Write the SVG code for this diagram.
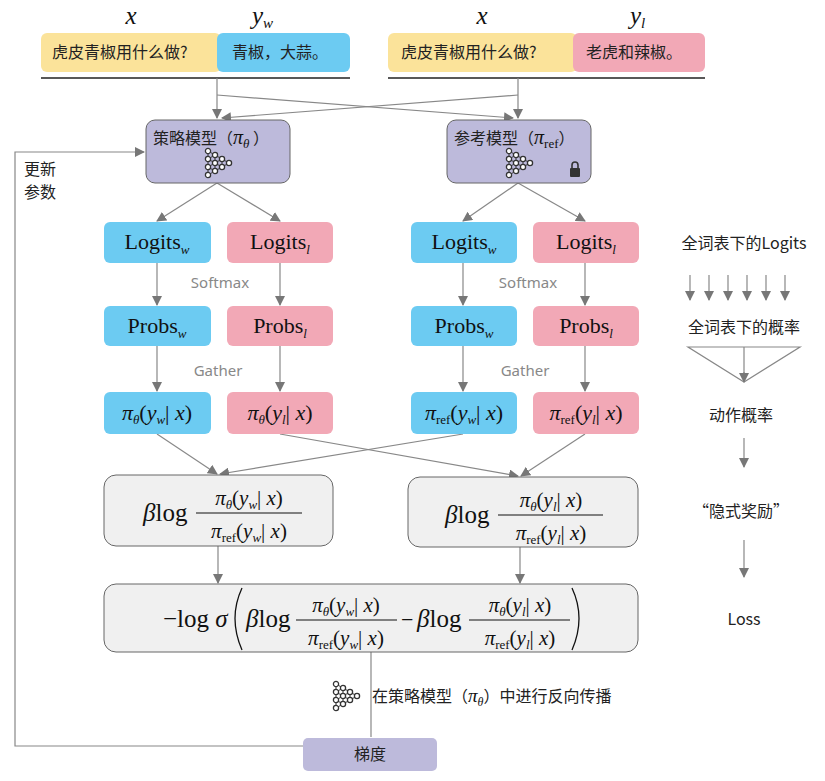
<svg xmlns="http://www.w3.org/2000/svg" width="825" height="781" viewBox="0 0 825 781">
<style>
.cn{font-family:"Noto Sans CJK SC","Noto Sans",sans-serif;font-size:16px;fill:#222}
.m{font-family:"Liberation Serif","Times New Roman","DejaVu Serif",serif;font-style:italic;fill:#111}
.r{font-family:"Liberation Serif","Times New Roman","DejaVu Serif",serif;font-style:normal;fill:#111}
.g{font-family:"Noto Sans","Liberation Sans",sans-serif;font-size:15px;fill:#888}
.ln{stroke:#888;stroke-width:1.2;fill:none}
.bl{fill:#6ccbf2}.pk{fill:#f2a8b6}.yl{fill:#fbe39a}
.gb{fill:#f0f0f0;stroke:#666;stroke-width:1}
.pu{fill:#bdbadb;stroke:#666;stroke-width:1}
</style>
<defs>
<marker id="a" viewBox="0 0 10 10" refX="9" refY="5" markerWidth="10" markerHeight="10" markerUnits="userSpaceOnUse" orient="auto"><path d="M0,0L10,5L0,10z" fill="#777"/></marker>
<g id="nn">
<path d="M0,0L7,4L14,8L21,12M0,8L7,4M0,8L7,12L14,8M0,16L7,12L14,16L21,12M0,24L7,20L14,16M0,16L7,20M0,0V24M7,4V20M14,8V16" stroke="#333" stroke-width="1" fill="none"/>
<g stroke="#333" stroke-width="1.3" fill="#fff">
<circle cx="0" cy="0" r="2.6"/><circle cx="0" cy="8" r="2.6"/><circle cx="0" cy="16" r="2.6"/><circle cx="0" cy="24" r="2.6"/>
<circle cx="7" cy="4" r="2.6"/><circle cx="7" cy="12" r="2.6"/><circle cx="7" cy="20" r="2.6"/>
<circle cx="14" cy="8" r="2.6"/><circle cx="14" cy="16" r="2.6"/><circle cx="21" cy="12" r="2.6"/>
</g></g>
</defs>
<rect width="825" height="781" fill="#fff"/>
<g id="inputs">
<text x="131" y="24" class="m" font-size="25" text-anchor="middle">x</text>
<text x="252" y="24" class="m" font-size="25">y<tspan font-size="15" dy="4">w</tspan></text>
<text x="482" y="24" class="m" font-size="25" text-anchor="middle">x</text>
<text x="630" y="24" class="m" font-size="25">y<tspan font-size="15" dy="4">l</tspan></text>
<rect x="41" y="33" width="180" height="39" rx="6" class="yl"/>
<rect x="217" y="33" width="133" height="39" rx="6" class="bl"/>
<rect x="388" y="33" width="189" height="39" rx="6" class="yl"/>
<rect x="573" y="33" width="132" height="39" rx="6" class="pk"/>
<text x="52" y="58" class="cn">虎皮青椒用什么做?</text>
<text x="232" y="58" class="cn">青椒，大蒜。</text>
<text x="401" y="58" class="cn">虎皮青椒用什么做?</text>
<text x="586" y="58" class="cn">老虎和辣椒。</text>
<path d="M41,78H350M388,78H705" stroke="#222" stroke-width="1.5"/>
</g>
<g id="connectors" class="ln">
<path marker-end="url(#a)" d="M217,78V118"/>
<path marker-end="url(#a)" d="M518,78V118"/>
<path marker-end="url(#a)" d="M217,95L513,118"/>
<path marker-end="url(#a)" d="M518,95L222,118"/>
<path marker-end="url(#a)" d="M303,746H15V152H144"/>
<path marker-end="url(#a)" d="M217,183L157,221"/>
<path marker-end="url(#a)" d="M217,183L280,221"/>
<path marker-end="url(#a)" d="M518,183L463,221"/>
<path marker-end="url(#a)" d="M518,183L585,221"/>
<path marker-end="url(#a)" d="M157,263V305"/>
<path marker-end="url(#a)" d="M280,263V305"/>
<path marker-end="url(#a)" d="M463,263V305"/>
<path marker-end="url(#a)" d="M585,263V305"/>
<path marker-end="url(#a)" d="M157,346V391"/>
<path marker-end="url(#a)" d="M280,346V391"/>
<path marker-end="url(#a)" d="M463,346V391"/>
<path marker-end="url(#a)" d="M585,346V391"/>
<path marker-end="url(#a)" d="M157,434L217,474"/>
<path marker-end="url(#a)" d="M463,434L220,474"/>
<path marker-end="url(#a)" d="M280,434L518,476"/>
<path marker-end="url(#a)" d="M585,434L521,476"/>
<path marker-end="url(#a)" d="M218,546V583"/>
<path marker-end="url(#a)" d="M520,547V583"/>
<path d="M371,652V737"/>
<path marker-end="url(#a)" d="M690,275V300"/>
<path marker-end="url(#a)" d="M709,275V300"/>
<path marker-end="url(#a)" d="M728,275V300"/>
<path marker-end="url(#a)" d="M747,275V300"/>
<path marker-end="url(#a)" d="M766,275V300"/>
<path marker-end="url(#a)" d="M785,275V300"/>
<path marker-end="url(#a)" d="M744,438V467"/>
<path marker-end="url(#a)" d="M744,540V577"/>
<path d="M688,347H800L744,382ZM744,347V381"/>
<path marker-end="url(#a)" d="M744,372V382"/>
</g>
<g id="policy">
<rect x="146" y="120" width="144" height="63" rx="9" class="pu"/>
<text x="153" y="144" class="cn">策略模型（<tspan class="m" font-size="20">π</tspan><tspan class="m" font-size="13" dy="4">θ</tspan><tspan dy="-4"> ）</tspan></text>
<use href="#nn" x="208" y="151"/>
</g>
<g id="ref">
<rect x="447" y="120" width="144" height="63" rx="9" class="pu"/>
<text x="454" y="144" class="cn">参考模型（<tspan class="m" font-size="20">π</tspan><tspan class="r" font-size="13" dy="4">ref</tspan><tspan dy="-4">）</tspan></text>
<use href="#nn" x="509" y="151"/>
<rect x="570" y="168" width="10" height="9" rx="1" fill="#333"/><path d="M572,168V165a3,3 0 0 1 6,0V168" stroke="#333" stroke-width="1.6" fill="none"/>
</g>
<g id="logits">
<rect x="104" y="222" width="107" height="41" rx="6" class="bl"/>
<rect x="227" y="222" width="106" height="41" rx="6" class="pk"/>
<rect x="411" y="222" width="106" height="41" rx="6" class="bl"/>
<rect x="533" y="222" width="106" height="41" rx="6" class="pk"/>
<text x="157" y="249" class="r" font-size="22" text-anchor="middle">Logits<tspan class="m" font-size="13" dy="5">w</tspan></text>
<text x="280" y="249" class="r" font-size="22" text-anchor="middle">Logits<tspan class="m" font-size="13" dy="5">l</tspan></text>
<text x="464" y="249" class="r" font-size="22" text-anchor="middle">Logits<tspan class="m" font-size="13" dy="5">w</tspan></text>
<text x="586" y="249" class="r" font-size="22" text-anchor="middle">Logits<tspan class="m" font-size="13" dy="5">l</tspan></text>
</g>
<g id="labels">
<text x="220" y="288" class="g" text-anchor="middle">Softmax</text>
<text x="528" y="288" class="g" text-anchor="middle">Softmax</text>
<text x="218" y="376" class="g" text-anchor="middle">Gather</text>
<text x="525" y="376" class="g" text-anchor="middle">Gather</text>
</g>
<g id="probs">
<rect x="104" y="306" width="107" height="40" rx="6" class="bl"/>
<rect x="227" y="306" width="106" height="40" rx="6" class="pk"/>
<rect x="411" y="306" width="106" height="40" rx="6" class="bl"/>
<rect x="533" y="306" width="106" height="40" rx="6" class="pk"/>
<text x="157" y="333" class="r" font-size="22" text-anchor="middle">Probs<tspan class="m" font-size="13" dy="5">w</tspan></text>
<text x="280" y="333" class="r" font-size="22" text-anchor="middle">Probs<tspan class="m" font-size="13" dy="5">l</tspan></text>
<text x="464" y="333" class="r" font-size="22" text-anchor="middle">Probs<tspan class="m" font-size="13" dy="5">w</tspan></text>
<text x="586" y="333" class="r" font-size="22" text-anchor="middle">Probs<tspan class="m" font-size="13" dy="5">l</tspan></text>
</g>
<g id="pis">
<rect x="104" y="392" width="107" height="42" rx="6" class="bl"/>
<rect x="227" y="392" width="106" height="42" rx="6" class="pk"/>
<rect x="411" y="392" width="106" height="42" rx="6" class="bl"/>
<rect x="533" y="392" width="106" height="42" rx="6" class="pk"/>
<text x="157" y="420" class="m" font-size="22" text-anchor="middle">π<tspan font-size="13" dy="4">θ</tspan><tspan class="r" dy="-4">(</tspan>y<tspan font-size="13" dy="4">w</tspan><tspan class="r" dy="-4">| </tspan>x<tspan class="r">)</tspan></text>
<text x="280" y="420" class="m" font-size="22" text-anchor="middle">π<tspan font-size="13" dy="4">θ</tspan><tspan class="r" dy="-4">(</tspan>y<tspan font-size="13" dy="4">l</tspan><tspan class="r" dy="-4">| </tspan>x<tspan class="r">)</tspan></text>
<text x="464" y="420" class="m" font-size="22" text-anchor="middle">π<tspan class="r" font-size="13" dy="4">ref</tspan><tspan class="r" dy="-4">(</tspan>y<tspan font-size="13" dy="4">w</tspan><tspan class="r" dy="-4">| </tspan>x<tspan class="r">)</tspan></text>
<text x="586" y="420" class="m" font-size="22" text-anchor="middle">π<tspan class="r" font-size="13" dy="4">ref</tspan><tspan class="r" dy="-4">(</tspan>y<tspan font-size="13" dy="4">l</tspan><tspan class="r" dy="-4">| </tspan>x<tspan class="r">)</tspan></text>
</g>
<g id="ratio_w">
<rect x="104" y="475" width="229" height="71" rx="12" class="gb"/>
<text x="143" y="521" class="m" font-size="25">β<tspan class="r">log</tspan></text>
<text x="249" y="505" class="m" font-size="21" text-anchor="middle">π<tspan font-size="13" dy="4">θ</tspan><tspan class="r" dy="-4">(</tspan>y<tspan font-size="13" dy="4">w</tspan><tspan class="r" dy="-4">| </tspan>x<tspan class="r">)</tspan></text>
<path d="M196,513H302" stroke="#111" stroke-width="1.2"/>
<text x="249" y="538" class="m" font-size="21" text-anchor="middle">π<tspan class="r" font-size="13" dy="4">ref</tspan><tspan class="r" dy="-4">(</tspan>y<tspan font-size="13" dy="4">w</tspan><tspan class="r" dy="-4">| </tspan>x<tspan class="r">)</tspan></text>
</g>
<g id="ratio_l">
<rect x="408" y="477" width="230" height="70" rx="12" class="gb"/>
<text x="445" y="523" class="m" font-size="25">β<tspan class="r">log</tspan></text>
<text x="551" y="507" class="m" font-size="21" text-anchor="middle">π<tspan font-size="13" dy="4">θ</tspan><tspan class="r" dy="-4">(</tspan>y<tspan font-size="13" dy="4">l</tspan><tspan class="r" dy="-4">| </tspan>x<tspan class="r">)</tspan></text>
<path d="M498,515H603" stroke="#111" stroke-width="1.2"/>
<text x="551" y="540" class="m" font-size="21" text-anchor="middle">π<tspan class="r" font-size="13" dy="4">ref</tspan><tspan class="r" dy="-4">(</tspan>y<tspan font-size="13" dy="4">l</tspan><tspan class="r" dy="-4">| </tspan>x<tspan class="r">)</tspan></text>
</g>
<g id="loss">
<rect x="104" y="584" width="534" height="68" rx="12" class="gb"/>
<text x="163" y="627" class="m" font-size="25"><tspan class="r">−log</tspan> σ</text>
<path d="M242,588Q228,618 242,650M572,588Q586,618 572,650" stroke="#111" stroke-width="1.3" fill="none"/>
<text x="246" y="627" class="m" font-size="25">β<tspan class="r">log</tspan></text>
<text x="346" y="612" class="m" font-size="21" text-anchor="middle">π<tspan font-size="13" dy="4">θ</tspan><tspan class="r" dy="-4">(</tspan>y<tspan font-size="13" dy="4">w</tspan><tspan class="r" dy="-4">| </tspan>x<tspan class="r">)</tspan></text>
<path d="M296,620H397" stroke="#111" stroke-width="1.2"/>
<text x="346" y="645" class="m" font-size="21" text-anchor="middle">π<tspan class="r" font-size="13" dy="4">ref</tspan><tspan class="r" dy="-4">(</tspan>y<tspan font-size="13" dy="4">w</tspan><tspan class="r" dy="-4">| </tspan>x<tspan class="r">)</tspan></text>
<text x="401" y="627" class="r" font-size="22">−</text>
<text x="417" y="627" class="m" font-size="25">β<tspan class="r">log</tspan></text>
<text x="520" y="612" class="m" font-size="21" text-anchor="middle">π<tspan font-size="13" dy="4">θ</tspan><tspan class="r" dy="-4">(</tspan>y<tspan font-size="13" dy="4">l</tspan><tspan class="r" dy="-4">| </tspan>x<tspan class="r">)</tspan></text>
<path d="M469,620H570" stroke="#111" stroke-width="1.2"/>
<text x="520" y="645" class="m" font-size="21" text-anchor="middle">π<tspan class="r" font-size="13" dy="4">ref</tspan><tspan class="r" dy="-4">(</tspan>y<tspan font-size="13" dy="4">l</tspan><tspan class="r" dy="-4">| </tspan>x<tspan class="r">)</tspan></text>
</g>
<g id="backprop">
<use href="#nn" x="336" y="684"/>
<text x="372" y="702" class="cn" font-size="17">在策略模型（<tspan class="m" font-size="19">π</tspan><tspan class="m" font-size="12" dy="4">θ</tspan><tspan dy="-4">）中进行反向传播</tspan></text>
</g>
<g id="gradient">
<rect x="303" y="738" width="134" height="33" rx="5" fill="#bdbadb"/>
<text x="370" y="760" class="cn" text-anchor="middle">梯度</text>
</g>
<g id="update"><text x="24" y="175" class="cn">更新</text><text x="24" y="198" class="cn">参数</text></g>
<g id="legend">
<text x="744" y="249" class="cn" text-anchor="middle">全词表下的Logits</text>
<text x="744" y="333" class="cn" text-anchor="middle">全词表下的概率</text>
<text x="741" y="421" class="cn" text-anchor="middle">动作概率</text>
<text x="741" y="517" class="cn" text-anchor="middle">“隐式奖励”</text>
<text x="744" y="625" class="cn" text-anchor="middle">Loss</text>
</g>
</svg>
